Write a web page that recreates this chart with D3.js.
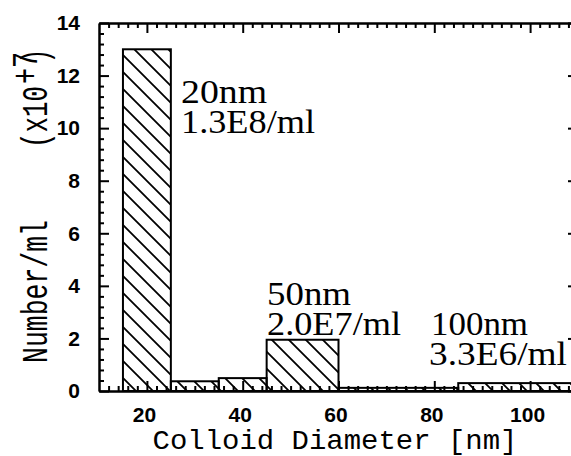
<!DOCTYPE html>
<html><head><meta charset="utf-8">
<script src="https://cdn.jsdelivr.net/npm/d3@7"></script>
<style>
html,body{margin:0;padding:0;background:#fff;}
svg{display:block;}
</style></head>
<body>
<script>
// ---- data ----
const binEdges = [15, 25, 35, 45, 60, 85, 110];          // colloid diameter bin edges [nm]
const counts = [13.0, 0.37, 0.49, 1.95, 0.12, 0.30];     // number/ml (x10^7)
const xTickValues = [20, 40, 60, 80, 100];
const yTickValues = [0, 2, 4, 6, 8, 10, 12, 14];
const annotLines1 = ["20nm", "1.3E8/ml"];
const annotLines2 = ["50nm", "2.0E7/ml"];
const annotLines3 = ["100nm", "3.3E6/ml"];

const W = 571, H = 456;
const svg = d3.select("body").append("svg").attr("width", W).attr("height", H);

const x = d3.scaleLinear().domain([10, 110]).range([99, 578]);
const y = d3.scaleLinear().domain([0, 14]).range([391, 23]);

// hatch pattern
const P = 17;
svg.append("defs").append("pattern")
  .attr("id", "hatch").attr("patternUnits", "userSpaceOnUse")
  .attr("width", P).attr("height", P)
  .append("path")
  .attr("d", `M0,0L${P},${P}M${-P/2},${P/2}L${P/2},${P*1.5}M${P/2},${-P/2}L${P*1.5},${P/2}`)
  .attr("stroke", "#000").attr("stroke-width", 1.8);

const bars = counts.map((v, i) => ({x0: binEdges[i], x1: binEdges[i+1], v}));
svg.append("g").selectAll("rect").data(bars).join("rect")
  .attr("x", d => x(d.x0)).attr("width", d => x(d.x1) - x(d.x0))
  .attr("y", d => y(d.v)).attr("height", d => y(0) - y(d.v))
  .attr("fill", "url(#hatch)").attr("stroke", "#000").attr("stroke-width", 2);

// minor tick helpers
const xMinor = d3.range(12, 110, 2).filter(v => v % 20 !== 0);
const yMinor = d3.range(0.4, 14, 0.4).filter(v => Math.abs(v/2 - Math.round(v/2)) > 1e-6);

function styleAxis(g) {
  g.attr("font-size", null).attr("font-family", null);
  g.selectAll("path.domain").attr("stroke", "#000").attr("stroke-width", 2);
  g.selectAll(".tick line").attr("stroke", "#000").attr("stroke-width", 2);
  g.selectAll("text").attr("font-family", "'Liberation Sans', Arial, sans-serif")
    .attr("font-weight", "bold").attr("font-size", 21).attr("fill", "#000");
}

// bottom
const gB = svg.append("g").attr("transform", `translate(0,${y(0)})`)
  .call(d3.axisBottom(x).tickValues(xTickValues).tickSizeInner(-10).tickSizeOuter(0).tickPadding(16));
styleAxis(gB);
gB.selectAll("text").attr("dx", -3);
const gB2 = svg.append("g").attr("transform", `translate(0,${y(0)})`)
  .call(d3.axisBottom(x).tickValues(xMinor).tickSizeInner(-5).tickSizeOuter(0).tickFormat(""));
styleAxis(gB2);
// top
const gT = svg.append("g").attr("transform", `translate(0,${y(14)})`)
  .call(d3.axisTop(x).tickValues(xTickValues).tickSizeInner(-10).tickSizeOuter(0).tickFormat(""));
styleAxis(gT);
const gT2 = svg.append("g").attr("transform", `translate(0,${y(14)})`)
  .call(d3.axisTop(x).tickValues(xMinor).tickSizeInner(-5).tickSizeOuter(0).tickFormat(""));
styleAxis(gT2);
// left
const gL = svg.append("g").attr("transform", `translate(${x(10)},0)`)
  .call(d3.axisLeft(y).tickValues(yTickValues).tickSizeInner(-10).tickSizeOuter(0).tickPadding(19));
styleAxis(gL);
const gL2 = svg.append("g").attr("transform", `translate(${x(10)},0)`)
  .call(d3.axisLeft(y).tickValues(yMinor).tickSizeInner(-5).tickSizeOuter(0).tickFormat(""));
styleAxis(gL2);
// right
const gR = svg.append("g").attr("transform", `translate(${x(110)},0)`)
  .call(d3.axisRight(y).tickValues(yTickValues).tickSizeInner(-10).tickSizeOuter(0).tickFormat(""));
styleAxis(gR);
const gR2 = svg.append("g").attr("transform", `translate(${x(110)},0)`)
  .call(d3.axisRight(y).tickValues(yMinor).tickSizeInner(-5).tickSizeOuter(0).tickFormat(""));
styleAxis(gR2);

// axis titles
svg.append("text")
  .attr("x", 335).attr("y", 449).attr("text-anchor", "middle")
  .attr("font-family", "'Liberation Mono', 'Courier New', monospace")
  .attr("font-size", 28).attr("fill", "#000")
  .attr("textLength", 365).attr("lengthAdjust", "spacingAndGlyphs")
  .text("Colloid Diameter [nm]");

const yt = svg.append("g").attr("transform", "translate(47,363) rotate(-90)")
  .attr("font-family", "'Liberation Mono', 'Courier New', monospace")
  .attr("font-size", 36).attr("fill", "#000");
yt.append("text").attr("x", 0).attr("y", 0)
  .attr("textLength", 143).attr("lengthAdjust", "spacingAndGlyphs").text("Number/ml");
yt.append("text").attr("x", 215).attr("y", 0)
  .attr("textLength", 62).attr("lengthAdjust", "spacingAndGlyphs").text("(x10");
yt.append("text").attr("x", 279).attr("y", -10)
  .attr("textLength", 32).attr("lengthAdjust", "spacingAndGlyphs").text("+7");
yt.append("text").attr("x", 300).attr("y", 0)
  .attr("textLength", 14).attr("lengthAdjust", "spacingAndGlyphs").text(")");

// annotations
function annot(lines, x0, y0, widths) {
  const g = svg.append("g").attr("font-family", "'Liberation Serif', 'Times New Roman', serif")
    .attr("font-size", 33).attr("fill", "#000");
  lines.forEach((t, i) => {
    g.append("text").attr("x", x0[i]).attr("y", y0 + i * 30)
      .attr("textLength", widths[i]).attr("lengthAdjust", "spacingAndGlyphs").text(t);
  });
}
annot(annotLines1, [181, 181], 103, [86, 134]);
annot(annotLines2, [267, 267], 305, [84, 134]);
annot(annotLines3, [431, 429], 335, [97, 138]);
</script>
</body></html>
